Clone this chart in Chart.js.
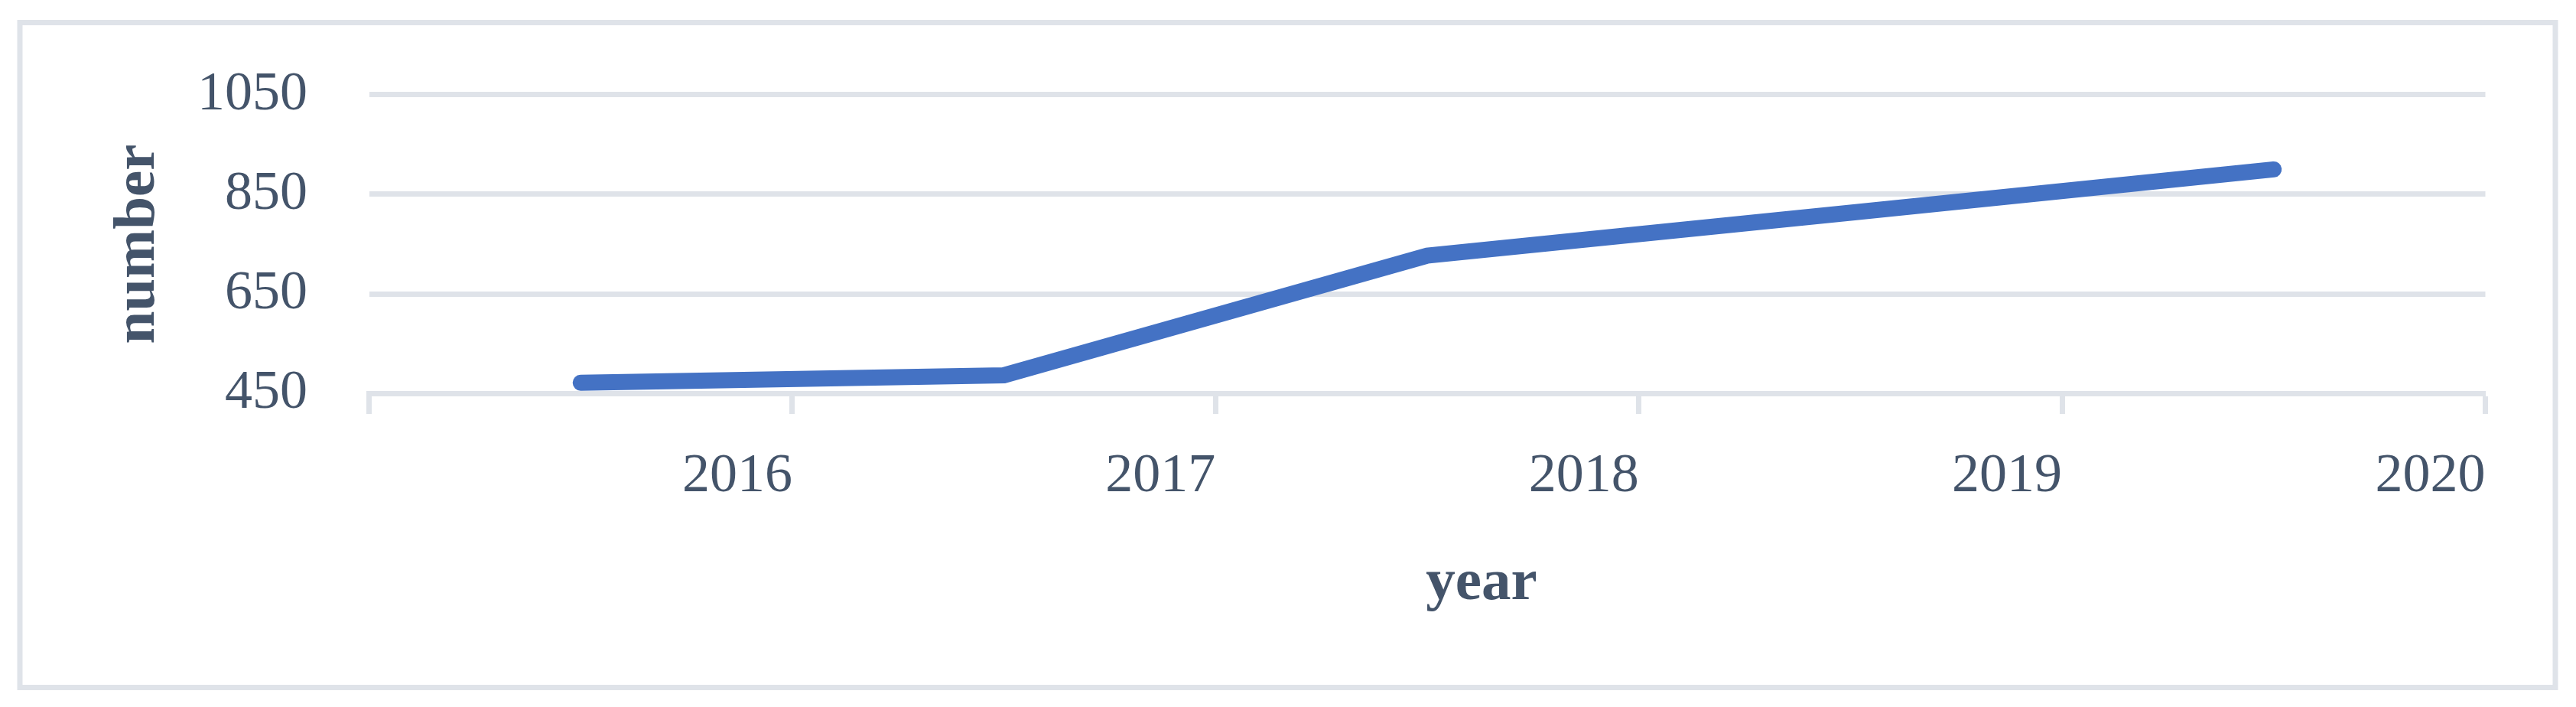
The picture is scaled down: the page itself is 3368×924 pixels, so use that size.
<!DOCTYPE html>
<html>
<head>
<meta charset="utf-8">
<script src="https://cdn.jsdelivr.net/npm/chart.js@4"></script>
<style>
  html, body { margin: 0; padding: 0; background: #ffffff; }
  #wrap { width: 3368px; height: 924px; position: relative; }
</style>
</head>
<body>
<div id="wrap"><canvas id="c" width="3368" height="924"></canvas></div>
<script>
const years = ['2016', '2017', '2018', '2019', '2020'];
const numbers = [472, 487, 727, 813, 900];
const yMin = 450;
const yMax = 1050;
const yStep = 200;
const xTitle = 'year';
const yTitle = 'number';

const textColor = '#44546A';
const gridColor = '#DFE3E9';
const lineColor = '#4472C4';
const serif = '"Palatino Linotype", "Book Antiqua", Palatino, "Liberation Serif", "DejaVu Serif", serif';

const frame = {
  id: 'frame',
  beforeDraw(chart) {
    const ctx = chart.ctx;
    ctx.save();
    ctx.fillStyle = '#ffffff';
    ctx.fillRect(0, 0, chart.width, chart.height);
    ctx.strokeStyle = gridColor;
    ctx.lineWidth = 7;
    ctx.strokeRect(26, 29.5, 3315, 869);
    ctx.restore();
  },
  afterDraw(chart) {
    const ctx = chart.ctx;
    const a = chart.chartArea;
    ctx.save();
    ctx.fillStyle = textColor;
    ctx.font = 'bold 77px ' + serif;
    ctx.textAlign = 'center';
    ctx.textBaseline = 'alphabetic';
    ctx.fillText(xTitle, (a.left + a.right) / 2 + 71, 783);
    ctx.restore();
  }
};

new Chart(document.getElementById('c'), {
  type: 'line',
  data: {
    labels: years,
    datasets: [{
      data: numbers,
      borderColor: lineColor,
      backgroundColor: lineColor,
      borderWidth: 21,
      borderCapStyle: 'round',
      borderJoinStyle: 'miter',
      pointRadius: 0,
      pointHoverRadius: 0,
      tension: 0,
      fill: false
    }]
  },
  options: {
    responsive: false,
    animation: false,
    devicePixelRatio: 1,
    events: [],
    layout: { padding: { left: 40, top: 121.5, right: 118.5, bottom: 30 } },
    plugins: {
      legend: { display: false },
      tooltip: { enabled: false },
      title: { display: false }
    },
    scales: {
      x: {
        type: 'category',
        offset: true,
        grid: {
          offset: true,
          display: true,
          drawOnChartArea: false,
          drawTicks: true,
          tickLength: 26.5,
          tickWidth: 7,
          tickColor: gridColor,
          color: gridColor
        },
        border: { display: true, color: gridColor, width: 7 },
        ticks: {
          color: textColor,
          font: { family: serif, size: 72 },
          align: 'end',
          labelOffset: 276.7,
          padding: 39,
          autoSkip: false,
          maxRotation: 0,
          minRotation: 0
        },
        title: { display: false },
        afterFit(scale) { scale.height = 379.5; }
      },
      y: {
        min: yMin,
        max: yMax,
        grid: {
          color: gridColor,
          lineWidth: 7,
          drawTicks: false
        },
        border: { display: false },
        ticks: {
          stepSize: yStep,
          color: textColor,
          font: { family: serif, size: 72 },
          padding: 80.5,
          callback: (v) => String(v)
        },
        title: {
          display: true,
          text: yTitle,
          color: textColor,
          font: { family: serif, size: 77, weight: 'bold' },
          padding: { top: 95, bottom: 0 }
        },
        afterFit(scale) { scale.width = 442.5; }
      }
    }
  },
  plugins: [frame]
});
</script>
</body>
</html>
